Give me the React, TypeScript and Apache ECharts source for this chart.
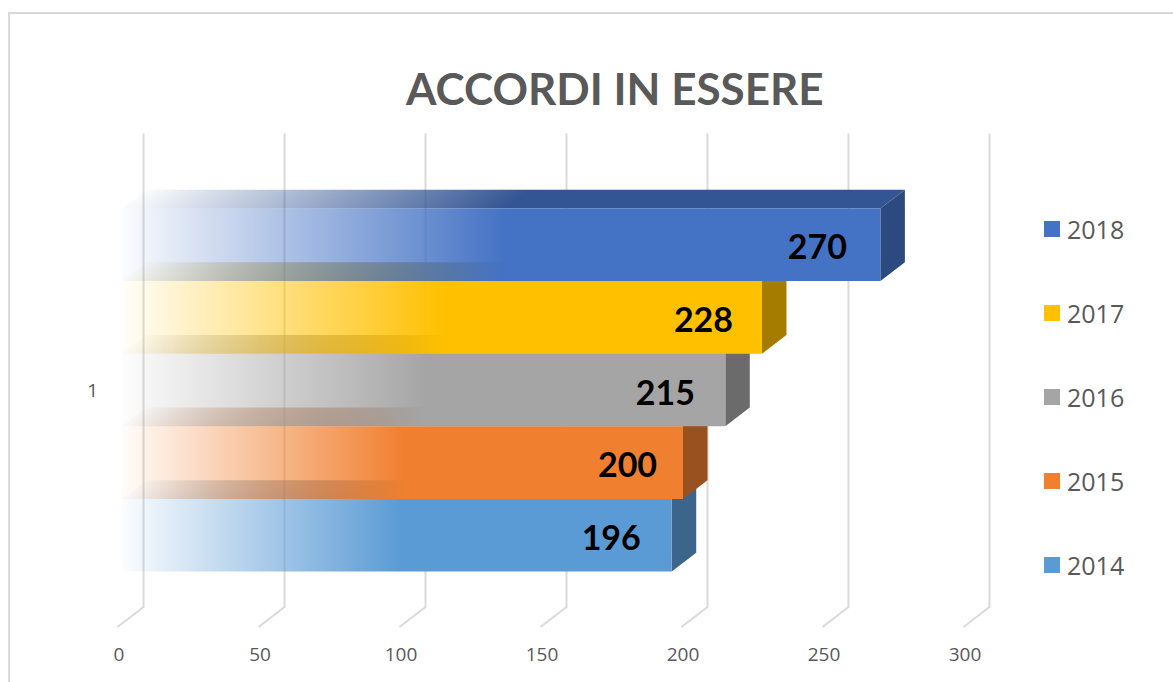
import React, { useEffect, useRef } from "react";
import * as echarts from "echarts";

const categories = ["1"];
const years = ["2014", "2015", "2016", "2017", "2018"];
const values2014 = [196];
const values2015 = [200];
const values2016 = [215];
const values2017 = [228];
const values2018 = [270];
const tickValues = [0, 50, 100, 150, 200, 250, 300];
const seriesValues = [values2014, values2015, values2016, values2017, values2018];

const frontColors = ["#5B9BD5", "#F07F2F", "#A5A5A5", "#FFC000", "#4472C4"];
const topColors = ["#44749F", "#B25E25", "#7C7C7C", "#BF9000", "#335593"];
const sideColors = ["#3B658B", "#9A5120", "#6B6B6B", "#A67C00", "#2C4A7F"];
const labelInsets = [60.5, 55.5, 60, 58.5, 63];

const DEPTH_X = 24.5;
const DEPTH_Y = 18.7;
const BAR_SHARE = 0.1532;
const FADE_END = 0.505;

function rgba(hex: string, a: number) {
  const n = parseInt(hex.slice(1), 16);
  return `rgba(${(n >> 16) & 255},${(n >> 8) & 255},${n & 255},${a})`;
}

function fadeStops(color: string) {
  return [
    { offset: 0, color: rgba(color, 0.02) },
    { offset: FADE_END, color: rgba(color, 1) },
    { offset: 1, color: rgba(color, 1) },
  ];
}

function barRenderer(index: number) {
  return (_params: any, api: any) => {
    const value = api.value(0);
    const [xEnd, yCenter] = api.coord([value, 0]);
    const [xZero] = api.coord([0, 0]);
    const xStart = xZero + 3;
    const band = api.size([0, 1])[1];
    const h = band * BAR_SHARE;
    const yBottom = yCenter + 2.5 * h - index * h;
    const yTop = yBottom - h;
    const len = xEnd - xStart;
    const norm = Math.hypot(DEPTH_X, DEPTH_Y);
    const nx = DEPTH_Y / norm;
    const ny = DEPTH_X / norm;
    const dist = len * nx;
    const topFill = new echarts.graphic.LinearGradient(
      xStart, yTop, xStart + nx * dist, yTop + ny * dist,
      fadeStops(topColors[index]),
      true
    );
    const frontFill = new echarts.graphic.LinearGradient(xStart, 0, xEnd, 0, fadeStops(frontColors[index]), true);
    return {
      type: "group",
      children: [
        {
          type: "polygon",
          shape: { points: [[xStart, yTop], [xStart + DEPTH_X, yTop - DEPTH_Y], [xEnd + DEPTH_X, yTop - DEPTH_Y], [xEnd, yTop]] },
          style: { fill: topFill },
        },
        {
          type: "polygon",
          shape: { points: [[xEnd, yTop], [xEnd + DEPTH_X, yTop - DEPTH_Y], [xEnd + DEPTH_X, yBottom - DEPTH_Y], [xEnd, yBottom]] },
          style: { fill: sideColors[index] },
        },
        {
          type: "rect",
          shape: { x: xStart, y: yTop, width: len, height: h },
          style: { fill: frontFill },
        },
        {
          type: "text",
          x: xEnd - labelInsets[index],
          y: yTop + h / 2 + 1,
          style: {
            text: String(value),
            fill: "#000000",
            font: 'bold 34px "Lato"',
            align: "center",
            verticalAlign: "middle",
          },
        },
      ],
    };
  };
}

function gridRenderer(_params: any, api: any) {
  const [x] = api.coord([api.value(0), 0]);
  const cs = _params.coordSys;
  const yFloor = cs.y + cs.height;
  return {
    type: "polyline",
    shape: {
      points: [
        [x + 24.5, cs.y - 19.5],
        [x + 24.5, yFloor - 20],
        [x - 1.5, yFloor],
      ],
    },
    style: { fill: "none", stroke: "#DADADA", lineWidth: 2 },
  };
}

export default function App() {
  const ref = useRef<HTMLDivElement>(null);
  useEffect(() => {
    const chart = echarts.init(ref.current!, null, { renderer: "svg" });
    chart.setOption({
      animation: false,
      backgroundColor: "#FFFFFF",
      title: {
        text: "ACCORDI IN ESSERE",
        left: 406,
        top: 66,
        padding: 0,
        textStyle: { fontFamily: "Lato", fontWeight: "bold", fontSize: 44, color: "#595959" },
      },
      legend: {
        data: [...years].reverse(),
        orient: "vertical",
        left: 1044,
        top: 214,
        padding: 0,
        icon: "rect",
        itemWidth: 16,
        itemHeight: 16,
        itemGap: 54,
        selectedMode: false,
        textStyle: { fontFamily: "Open Sans", fontSize: 25, color: "#595959", lineHeight: 30, padding: [0, 0, 0, 2] },
      },
      grid: { left: 119, top: 153, width: 846, height: 474 },
      xAxis: {
        type: "value",
        min: 0,
        max: 300,
        interval: 50,
        axisLine: { show: false },
        axisTick: { show: false },
        splitLine: { show: false },
        axisLabel: { margin: 17, fontFamily: "Open Sans", fontSize: 19, color: "#595959" },
      },
      yAxis: {
        type: "category",
        data: categories,
        axisLine: { show: false },
        axisTick: { show: false },
        axisLabel: { margin: 21, fontFamily: "Open Sans", fontSize: 19, color: "#595959" },
      },
      series: [
        {
          type: "custom",
          name: "grid",
          clip: false,
          silent: true,
          renderItem: gridRenderer,
          encode: { x: 0 },
          data: tickValues.map((t) => [t]),
        },
        ...years.map((y, i) => ({
          type: "custom",
          name: y,
          clip: false,
          renderItem: barRenderer(i),
          itemStyle: { color: frontColors[i] },
          encode: { x: 0, y: 1 },
          data: seriesValues[i].map((v) => [v, 0]),
        })),
      ],
      graphic: [
        {
          type: "polyline",
          shape: { points: [[9, 682], [9, 13], [1173, 13]] },
          style: { fill: "none", stroke: "#D9D9D9", lineWidth: 2 },
          silent: true,
        },
      ],
    });
    return () => chart.dispose();
  }, []);
  return <div ref={ref} style={{ position: "absolute", left: 0, top: 0, width: 1173, height: 682 }} />;
}
